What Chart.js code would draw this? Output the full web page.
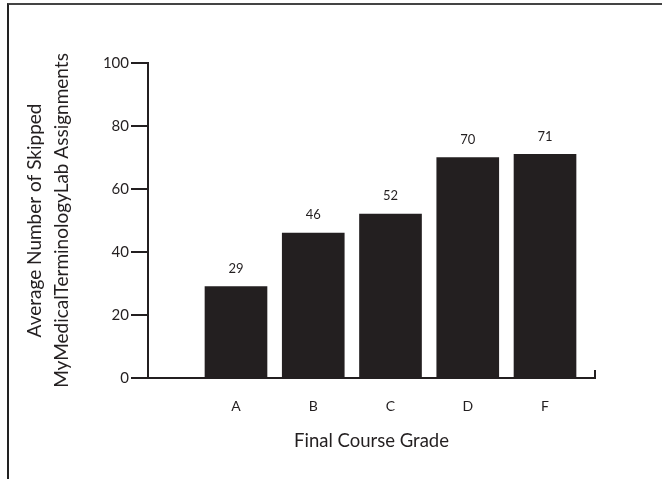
<!DOCTYPE html>
<html>
<head>
<meta charset="utf-8">
<script src="https://cdn.jsdelivr.net/npm/chart.js@4.4.0/dist/chart.umd.min.js"></script>
<style>
    html, body { margin: 0; padding: 0; background: #fff; overflow: hidden; }
    .wrap { position: relative; width: 662px; height: 479px; }
    .frame { position: absolute; left: 7px; top: 3px; width: 670px; height: 490px;
             border-top: 2px solid #444; border-left: 2px solid #222; }
    canvas { position: absolute; left: 0; top: 0; }
</style>
</head>
<body>
<div class="wrap">
    <div class="frame"></div>
    <canvas id="chart" width="662" height="479"></canvas>
</div>
<script>
const grades = ['A', 'B', 'C', 'D', 'F'];
const skipped = [29, 46, 52, 70, 71];
const yTicks = [0, 20, 40, 60, 80, 100];

const ink = '#231f20';
const fontFamily = 'Lato, "Open Sans", sans-serif';

// small upturned tick at the right end of the x axis
const axisEnd = {
    id: 'axisEnd',
    afterDraw: function (chart) {
        const ctx = chart.ctx;
        const area = chart.chartArea;
        ctx.save();
        ctx.strokeStyle = ink;
        ctx.lineWidth = 2;
        ctx.beginPath();
        ctx.moveTo(area.right, area.bottom - 8);
        ctx.lineTo(area.right, area.bottom + 1);
        ctx.stroke();
        ctx.restore();
    }
};

// numbers above the bars
const barValues = {
    id: 'barValues',
    afterDatasetsDraw: function (chart) {
        const ctx = chart.ctx;
        const meta = chart.getDatasetMeta(0);
        ctx.save();
        ctx.fillStyle = ink;
        ctx.font = '13px ' + fontFamily;
        ctx.textAlign = 'center';
        ctx.textBaseline = 'middle';
        meta.data.forEach(function (bar, i) {
            ctx.fillText(String(skipped[i]), bar.x, bar.y - 18);
        });
        ctx.restore();
    }
};

new Chart(document.getElementById('chart'), {
    type: 'bar',
    data: {
        datasets: [{
            data: skipped.map(function (v, i) { return { x: i + 1, y: v }; }),
            backgroundColor: ink,
            borderWidth: 0,
            barThickness: 62
        }]
    },
    options: {
        responsive: false,
        animation: false,
        layout: { padding: { top: 63, right: 67, left: 0, bottom: 0 } },
        plugins: {
            legend: { display: false },
            tooltip: { enabled: false }
        },
        scales: {
            x: {
                type: 'linear',
                offset: false,
                min: -0.139,
                max: 5.647,
                afterFit: function (s) { s.height = 101; },
                afterBuildTicks: function (s) {
                    s.ticks = grades.map(function (g, i) { return { value: i + 1 }; });
                },
                grid: { display: false, drawTicks: false, offset: false },
                border: { display: true, color: ink, width: 2 },
                ticks: {
                    autoSkip: false,
                    maxRotation: 0,
                    padding: 20,
                    color: ink,
                    font: { family: fontFamily, size: 14 },
                    callback: function (v) { return grades[v - 1] || ''; }
                },
                title: {
                    display: true,
                    text: 'Final Course Grade',
                    color: ink,
                    font: { family: fontFamily, size: 18.5 },
                    padding: { top: 0, bottom: 27 }
                }
            },
            y: {
                min: 0,
                max: 100,
                afterFit: function (s) { s.width = 148; },
                afterBuildTicks: function (s) {
                    s.ticks = yTicks.map(function (v) { return { value: v }; });
                },
                grid: { drawOnChartArea: false, drawTicks: true, tickLength: 17, color: ink, lineWidth: 2 },
                border: { display: true, color: ink, width: 2 },
                ticks: {
                    padding: 2,
                    color: ink,
                    font: { family: fontFamily, size: 15 }
                },
                title: {
                    display: true,
                    text: ['Average Number of Skipped', 'MyMedicalTerminologyLab Assignments'],
                    color: ink,
                    font: { family: fontFamily, size: 19, lineHeight: 1.4 },
                    padding: { top: 22, bottom: 0 }
                }
            }
        }
    },
    plugins: [axisEnd, barValues]
});
</script>
</body>
</html>
